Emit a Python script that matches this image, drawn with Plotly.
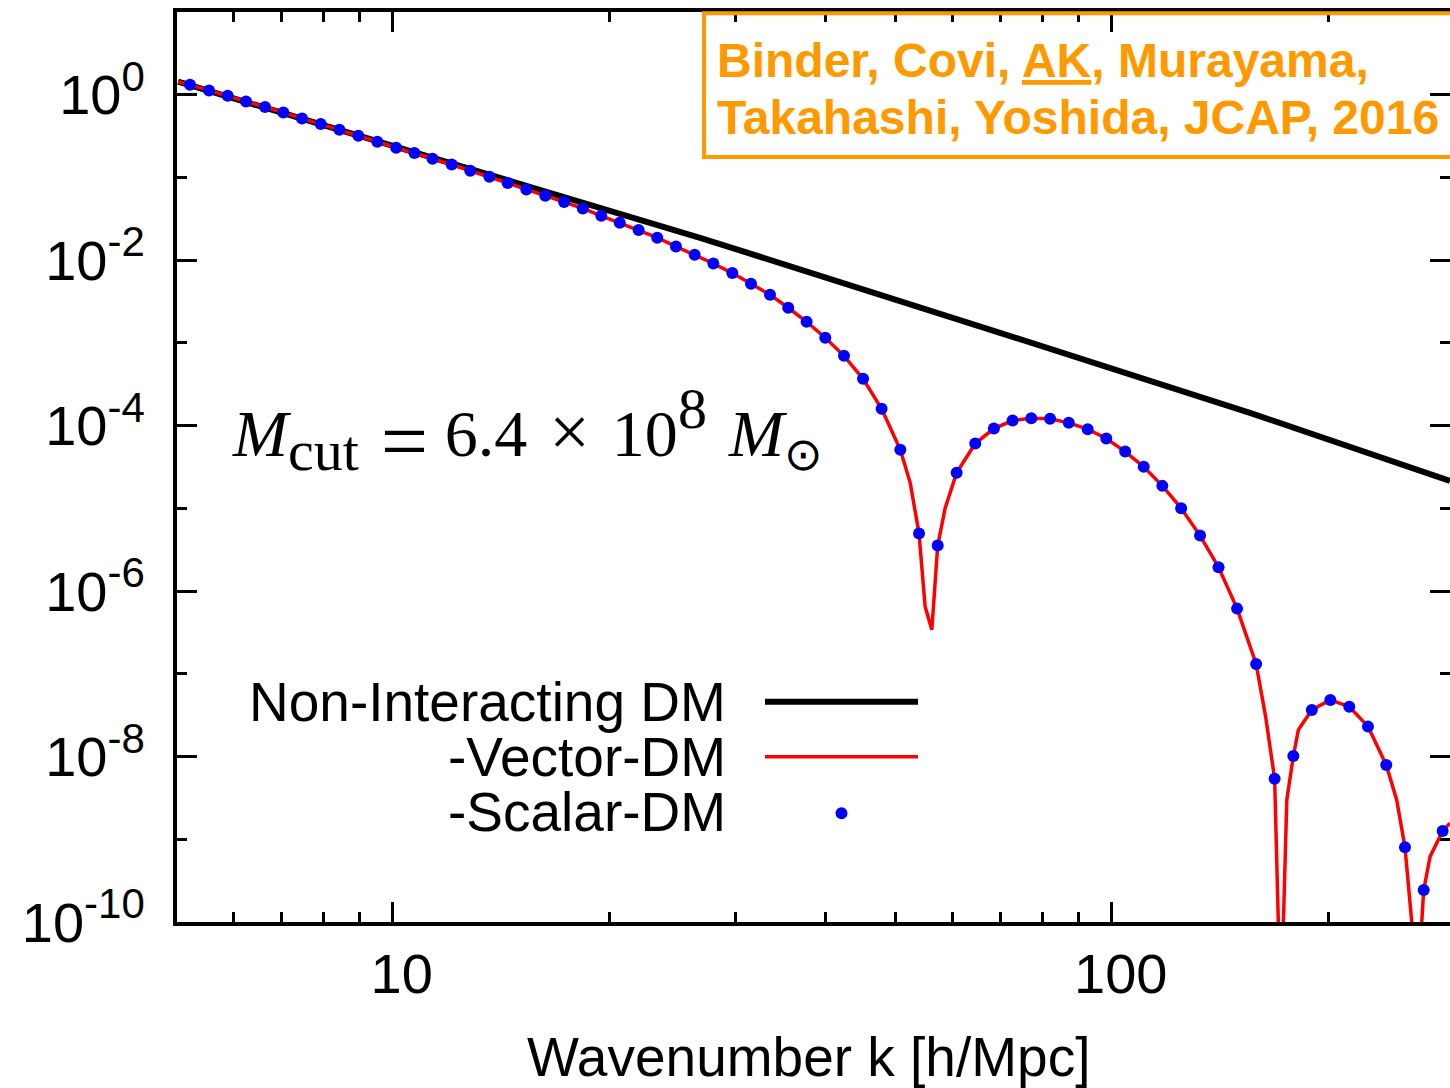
import plotly.graph_objects as go

# ---------------- data ----------------
# Non-interacting (CDM) linear power spectrum, k in h/Mpc
cdm_k = [5.03, 26.76, 69.94, 155.7, 295.4]
cdm_p = [1.436, 0.01866, 1.325e-3, 1.428e-4, 2.15e-5]

# Scalar-DM samples
scalar_k = [5.225, 5.553, 5.895, 6.252, 6.644, 7.045, 7.479, 7.941, 8.431, 8.958,
            9.519, 10.11, 10.72, 11.36, 12.08, 12.82, 13.63, 14.45, 15.34, 16.30,
            17.31, 18.38, 19.50, 20.69, 21.98, 23.33, 24.77, 26.30, 27.92, 29.67,
            31.50, 33.48, 35.49, 37.64, 39.96, 42.43, 45.10, 47.86, 50.82, 53.95,
            57.28, 60.86, 64.59, 68.57, 72.81, 77.30, 82.09, 87.15, 92.60, 98.28,
            104.4, 110.8, 117.6, 124.9, 132.7, 140.8, 149.4, 158.8, 168.5, 178.9,
            189.8, 201.4, 214.0, 227.2, 240.9, 255.8, 271.6, 288.6]
scalar_p = [1.32, 1.127, 0.972, 0.830, 0.710, 0.611, 0.517, 0.442, 0.3774, 0.3193,
            0.2702, 0.2286, 0.1972, 0.1683, 0.1436, 0.1205, 0.1020, 0.0856, 0.0716, 0.0601,
            0.0504, 0.0422, 0.0344, 0.0283, 0.0231, 0.0187, 0.01464, 0.01162, 0.00912, 0.00698,
            0.00518, 0.00382, 0.00266, 0.00180, 1.153e-3, 6.98e-4, 3.68e-4, 1.60e-4, 5.10e-5, 4.96e-6,
            3.55e-6, 2.69e-5, 6.08e-5, 9.22e-5, 1.153e-4, 1.232e-4, 1.209e-4, 1.081e-4, 9.07e-5, 6.98e-5,
            4.86e-5, 3.18e-5, 1.87e-5, 1.005e-5, 4.69e-6, 1.945e-6, 6.14e-7, 1.317e-7, 5.40e-9, 1.017e-8,
            3.66e-8, 4.83e-8, 4.01e-8, 2.30e-8, 7.91e-9, 8.0e-10, 2.44e-10, 1.26e-9]

# Vector-DM curve (finer sampling through the acoustic zeros)
vector_k = [5.03, 5.225, 5.553, 5.895, 6.252, 6.644, 7.045, 7.479, 7.941, 8.431, 8.958,
            9.519, 10.11, 10.72, 11.36, 12.08, 12.82, 13.63, 14.45, 15.34, 16.30,
            17.31, 18.38, 19.50, 20.69, 21.98, 23.33, 24.77, 26.30, 27.92, 29.67,
            31.50, 33.48, 35.49, 37.64, 39.96, 42.43, 45.10, 47.86, 50.82, 52.46, 53.95,
            55.02, 56.21, 57.28, 58.66, 60.86, 64.59, 68.57, 72.81, 77.30, 82.09, 87.15,
            92.60, 98.28, 104.4, 110.8, 117.6, 124.9, 132.7, 140.8, 149.4, 158.8, 163.7,
            168.5, 170.5, 171.9, 173.3, 175.2, 178.9, 181.8, 189.8, 201.4, 214.0, 227.2,
            240.9, 249.1, 255.8, 261.4, 265.6, 269.9, 271.6, 277.2, 288.6, 295.4]
vector_p = [1.43, 1.32, 1.127, 0.972, 0.830, 0.710, 0.611, 0.517, 0.442, 0.3774, 0.3193,
            0.2702, 0.2286, 0.1972, 0.1683, 0.1436, 0.1205, 0.1020, 0.0856, 0.0716, 0.0601,
            0.0504, 0.0422, 0.0344, 0.0283, 0.0231, 0.0187, 0.01464, 0.01162, 0.00912, 0.00698,
            0.00518, 0.00382, 0.00266, 0.00180, 1.153e-3, 6.98e-4, 3.68e-4, 1.60e-4, 5.10e-5, 2.02e-5, 4.96e-6,
            6.50e-7, 3.40e-7, 3.55e-6, 1.005e-5, 2.69e-5, 6.08e-5, 9.22e-5, 1.153e-4, 1.232e-4, 1.209e-4, 1.081e-4,
            9.07e-5, 6.98e-5, 4.86e-5, 3.18e-5, 1.87e-5, 1.005e-5, 4.69e-6, 1.945e-6, 6.14e-7, 1.317e-7, 3.04e-8,
            5.40e-9, 1e-10, 1e-12, 1e-10, 2.99e-9, 1.017e-8, 2.10e-8, 3.66e-8, 4.83e-8, 4.01e-8, 2.30e-8,
            7.91e-9, 2.99e-9, 8.0e-10, 1e-10, 1e-12, 1e-10, 2.44e-10, 6.16e-10, 1.26e-9, 1.57e-9]

x_major = [10, 100]
x_major_text = ["10", "100"]
x_minor = [6, 7, 8, 9, 20, 30, 40, 50, 60, 70, 80, 90, 200]
y_major = [1e0, 1e-2, 1e-4, 1e-6, 1e-8, 1e-10]
y_major_exp = ["0", "-2", "-4", "-6", "-8", "-10"]
y_minor = [1e-1, 1e-3, 1e-5, 1e-7, 1e-9]

legend_labels = ["Non-Interacting DM", "-Vector-DM", "-Scalar-DM"]

# ---------------- styling ----------------
SANS = "Liberation Sans, Arial, Helvetica, sans-serif"
SERIF = "Liberation Serif, Times New Roman, serif"
ORANGE = "#FF9900"
TICK_FONT = dict(family=SANS, size=56, color="black")

y_ticktext = ["10<sup><span style='font-size:42px'>%s</span></sup>" % e for e in y_major_exp]

fig = go.Figure()

fig.add_trace(go.Scatter(x=cdm_k, y=cdm_p, mode="lines",
                         line=dict(color="black", width=6), showlegend=False,
                         hoverinfo="skip"))
fig.add_trace(go.Scatter(x=vector_k, y=vector_p, mode="lines",
                         line=dict(color="#FF0000", width=3.5), showlegend=False,
                         hoverinfo="skip"))
fig.add_trace(go.Scatter(x=scalar_k, y=scalar_p, mode="markers",
                         marker=dict(color="#0000FF", size=12, line=dict(width=0)),
                         showlegend=False, hoverinfo="skip"))
# empty trace carrying the right-hand tick axis
fig.add_trace(go.Scatter(x=[10], y=[None], yaxis="y2", mode="markers",
                         showlegend=False, hoverinfo="skip"))

axis_common = dict(type="log", showgrid=False, zeroline=False,
                   ticks="inside", ticklen=20, tickwidth=3, tickcolor="black")
minor_common = dict(ticks="inside", ticklen=10, tickwidth=3, tickcolor="black",
                    showgrid=False)

fig.update_layout(
    width=1450, height=1088,
    margin=dict(l=177, r=0, t=12, b=166),
    paper_bgcolor="white", plot_bgcolor="white",
    showlegend=False,
    xaxis=dict(**axis_common, range=[0.7, 2.4705],
               showline=True, linecolor="black", linewidth=4, mirror="ticks",
               tickmode="array", tickvals=x_major, ticktext=x_major_text,
               tickfont=TICK_FONT, ticklabelstandoff=0, ticklabelshift=9,
               minor=dict(**minor_common, tickvals=x_minor)),
    yaxis=dict(**axis_common, range=[-10, 1],
               showline=True, linecolor="black", linewidth=4, mirror=False,
               tickmode="array", tickvals=y_major, ticktext=y_ticktext,
               tickfont=TICK_FONT, ticklabelstandoff=17,
               minor=dict(**minor_common, tickvals=y_minor)),
    yaxis2=dict(**axis_common, range=[-10, 1], overlaying="y", side="right",
                anchor="x", showline=False, showticklabels=False,
                tickmode="array", tickvals=y_major,
                minor=dict(**minor_common, tickvals=y_minor)),
)

annotations = []
# axis title
annotations.append(dict(text="Wavenumber k [h/Mpc]", xref="paper", yref="paper",
                        x=0.496, y=-0.1484, xanchor="center", yanchor="middle",
                        showarrow=False, font=dict(family=SANS, size=55, color="black")))

# legend block: labels right-aligned, samples to the right
legend_rows_y = [0.2421, 0.1816, 0.1209]
for label, yy in zip(legend_labels, legend_rows_y):
    annotations.append(dict(text=label, xref="paper", yref="paper", x=0.4328, y=yy,
                            xanchor="right", yanchor="middle", showarrow=False,
                            font=dict(family=SANS, size=55, color="black")))

# mass cut label
mcut_text = ("<i>M</i><sub><span style='font-size:58px'>cut</span></sub>"
             "\u2004<sub><span style='font-size:84px'>=</span></sub>\u00a06.4\u2004"
             "<span style='font-size:72px'>\u00d7</span>\u200410"
             "<sup><span style='font-size:58px'>8</span></sup>"
             "\u2004<i>M</i><sub>\u2299</sub>")
annotations.append(dict(
    text=mcut_text,
    xref="paper", yref="paper", x=0.0416, y=0.5388, xanchor="left", yanchor="middle",
    showarrow=False, font=dict(family=SERIF, size=66, color="black")))

# reference box text
annotations.append(dict(text="<b>Binder, Covi, <u>AK</u>, Murayama,</b>", xref="paper", yref="paper",
                        x=0.4226, y=0.9462, xanchor="left", yanchor="middle", showarrow=False,
                        font=dict(family=SANS, size=48, color=ORANGE)))
annotations.append(dict(text="<b>Takahashi, Yoshida, JCAP, 2016</b>", xref="paper", yref="paper",
                        x=0.4226, y=0.8838, xanchor="left", yanchor="middle", showarrow=False,
                        font=dict(family=SANS, size=48, color=ORANGE)))
fig.update_layout(annotations=annotations)

shapes = [
    # legend samples
    dict(type="line", xref="paper", yref="paper", x0=0.4619, x1=0.5821,
         y0=legend_rows_y[0], y1=legend_rows_y[0], line=dict(color="black", width=6)),
    dict(type="line", xref="paper", yref="paper", x0=0.4619, x1=0.5821,
         y0=legend_rows_y[1], y1=legend_rows_y[1], line=dict(color="#FF0000", width=3.5)),
    dict(type="circle", xref="paper", yref="paper", xsizemode="pixel", ysizemode="pixel",
         xanchor=0.522, yanchor=0.1194, x0=-6, x1=6, y0=-6, y1=6,
         fillcolor="#0000FF", line=dict(width=0)),
    # reference box
    dict(type="rect", xref="paper", yref="paper", x0=0.4140, x1=1.05, y0=0.8407, y1=0.9986,
         line=dict(color=ORANGE, width=4), fillcolor="rgba(0,0,0,0)", layer="above"),
]
fig.update_layout(shapes=shapes)

fig.write_html("out.html")
